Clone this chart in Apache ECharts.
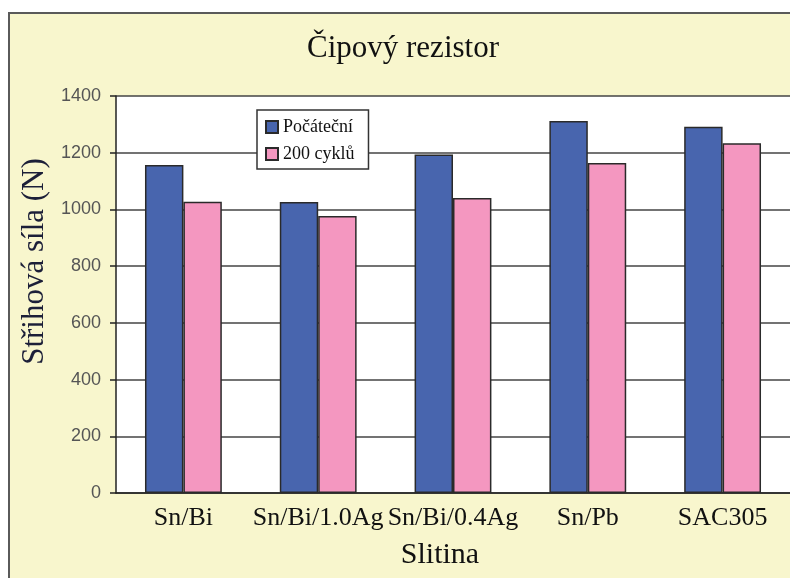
<!DOCTYPE html>
<html>
<head>
<meta charset="utf-8">
<style>
  html, body { margin: 0; padding: 0; background: #fff; overflow: hidden; }
  #chart { width: 790px; height: 578px; }
</style>
</head>
<body>
<div id="chart"></div>
<script src="https://cdn.jsdelivr.net/npm/echarts@6/dist/echarts.min.js"></script>
<script type="text/javascript">
    const alloys = ['Sn/Bi', 'Sn/Bi/1.0Ag', 'Sn/Bi/0.4Ag', 'Sn/Pb', 'SAC305'];
    const initial = [1157, 1026, 1194, 1312, 1292];
    const after200 = [1027, 977, 1040, 1164, 1233];
    const yTicks = [0, 200, 400, 600, 800, 1000, 1200, 1400];

    const serif = '"Liberation Serif", "DejaVu Serif", serif';
    const chart = echarts.init(document.getElementById('chart'));

    chart.setOption({
        backgroundColor: '#fff',
        animation: false,
        graphic: [{
            type: 'rect',
            z: -10,
            shape: { x: 9, y: 13, width: 820, height: 620 },
            style: { fill: '#F8F6CD', stroke: '#5a5a5a', lineWidth: 2 }
        }],
        title: {
            text: 'Čipový rezistor',
            left: 302,
            top: 28,
            textStyle: { fontFamily: serif, fontSize: 31, fontWeight: 'normal', color: '#111' }
        },
        legend: {
            orient: 'vertical',
            left: 257,
            top: 110,
            padding: [8, 14, 6, 8],
            itemGap: 9,
            itemWidth: 12,
            itemHeight: 12,
            icon: 'rect',
            backgroundColor: '#fff',
            borderColor: '#333',
            borderWidth: 1.5,
            textStyle: { fontFamily: serif, fontSize: 18, color: '#111' },
            data: ['Počáteční', '200 cyklů']
        },
        grid: {
            left: 116,
            top: 96,
            width: 685,
            height: 397,
            show: true,
            backgroundColor: '#fff',
            borderWidth: 0
        },
        xAxis: {
            type: 'category',
            data: alloys,
            name: 'Slitina',
            nameLocation: 'middle',
            nameGap: 47,
            nameTextStyle: { fontFamily: serif, fontSize: 30, color: '#111', padding: [0, 26, 0, 0] },
            axisLine: { lineStyle: { color: '#222', width: 1.5 } },
            axisTick: { length: 5, lineStyle: { color: '#222', width: 1.5 } },
            axisLabel: { interval: 0, hideOverlap: false, fontFamily: serif, fontSize: 26, color: '#111', margin: 12 }
        },
        yAxis: {
            type: 'value',
            min: 0,
            max: 1400,
            interval: 200,
            name: 'Střihová síla (N)',
            nameLocation: 'middle',
            nameGap: 63,
            nameTextStyle: { fontFamily: serif, fontSize: 31, color: '#1c1f38', padding: [0, 0, 0, 66] },
            axisLine: { show: true, lineStyle: { color: '#222', width: 1.5 } },
            axisTick: { show: true, length: 6, lineStyle: { color: '#222', width: 1.5 } },
            axisLabel: {
                fontFamily: '"Liberation Sans", Arial, sans-serif',
                fontSize: 18,
                color: '#555',
                margin: 15,
                formatter: v => yTicks.includes(v) ? String(v) : ''
            },
            splitLine: { lineStyle: { color: '#444', width: 1.5 } }
        },
        series: [{
            name: 'Počáteční',
            type: 'bar',
            data: initial,
            barWidth: '28.5%',
            barGap: 0,
            itemStyle: { color: '#4865AE', borderColor: '#2a2a2a', borderWidth: 1.5 }
        }, {
            name: '200 cyklů',
            type: 'bar',
            data: after200,
            barWidth: '28.5%',
            barGap: 0,
            itemStyle: { color: '#F497C0', borderColor: '#2a2a2a', borderWidth: 1.5 }
        }]
    });
</script>
</body>
</html>
